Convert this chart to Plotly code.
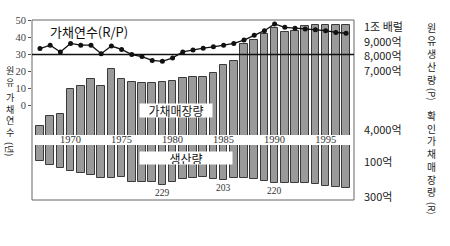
import plotly.graph_objects as go

# ---------------- data ----------------
years = list(range(1967, 1998))
rp_years = [33.5, 35.5, 31.5, 36.5, 35.5, 35.5, 30.5, 35, 33, 30,
            28.8, 26.5, 26, 28, 31.5, 32.7, 33.7, 34.5, 35.5, 36.5,
            38.5, 41.3, 44, 48, 46, 45.5, 45, 44.5, 44, 43, 42.5]
reserves = [3270, 3900, 4050, 5770, 6000, 6430, 5980, 7120, 6480, 6250,
            6200, 6200, 6270, 6340, 6500, 6610, 6610, 6840, 7410, 7680,
            8840, 9090, 9540, 9930, 9680, 9730, 10090, 10140, 10140, 10140, 10140]
production = [94, 114, 132, 149, 160, 172, 190, 189, 185, 210,
              213, 213, 229, 210, 195, 187, 181, 195, 203, 191,
              191, 195, 209, 220, 216, 216, 216, 223, 235, 242, 248]

year_ticks = [1970, 1975, 1980, 1985, 1990, 1995]
rp_ticks = [0, 10, 20, 30, 40, 50]
reserve_tick_vals = [10000, 9000, 8000, 7000, 2980]
reserve_tick_text = ["1조 배럴", "9,000억", "8,000억", "7,000억", "4,000억"]
prod_tick_vals = [100, 300]
prod_tick_text = ["100억", "300억"]
labelled_years = [1979, 1985, 1990]
rp_reference = 30

left_title_a = ["원", "유"]
left_title_b = ["가", "채", "연", "수"]
left_unit = "(년)"
right_title_p = ["원", "유", "생", "산", "량"]
right_unit_p = "(P)"
right_title_r = ["확", "인", "가", "채", "매", "장", "량"]
right_unit_r = "(R)"

# ---------------- layout helpers ----------------
W, H = 450, 246
L, R, T, B = 32, 354, 20, 200


def px(x):
    return (x - L) / (R - L)


def py(y):
    return (B - y) / (B - T)


KR = "Noto Sans CJK KR"
SERIF = "Liberation Serif"
BAR_FILL = "#9a9a9a"
BAR_LINE = "#3a3a3a"

fig = go.Figure()

fig.add_trace(go.Bar(x=years, y=reserves, yaxis="y", width=0.75,
                     marker=dict(color=BAR_FILL, line=dict(color=BAR_LINE, width=1))))
fig.add_trace(go.Bar(x=years, y=production, yaxis="y3", width=0.75,
                     marker=dict(color=BAR_FILL, line=dict(color=BAR_LINE, width=1))))
fig.add_trace(go.Scatter(x=years, y=rp_years, yaxis="y2", mode="lines+markers",
                         line=dict(color="#111", width=1.3),
                         marker=dict(color="#111", size=5)))

fig.update_layout(
    width=W, height=H,
    margin=dict(l=L, r=W - R, t=T, b=H - B),
    paper_bgcolor="white", plot_bgcolor="white",
    showlegend=False, bargap=0,
    xaxis=dict(range=[1966.22, 1997.78], anchor="free", position=py(131.5),
               tickvals=year_ticks, ticks="", showgrid=False, showline=False,
               zeroline=False, ticklabelstandoff=0,
               tickfont=dict(family=SERIF, size=10.5, color="#333")),
    yaxis=dict(domain=[py(135), 1], range=[2638, 10477], side="right",
               anchor="x", tickvals=reserve_tick_vals, ticktext=reserve_tick_text,
               ticks="", showgrid=False, showline=False, zeroline=False,
               ticklabelstandoff=9,
               tickfont=dict(family=KR, size=11, color="#222")),
    yaxis2=dict(overlaying="y", side="left", range=[-17.35, 50.3],
                tickvals=rp_ticks, ticks="outside", ticklen=3, tickcolor="#555",
                showgrid=False, showline=False, zeroline=False,
                ticklabelstandoff=0,
                tickfont=dict(family=SERIF, size=10.5, color="#444")),
    yaxis3=dict(domain=[0, py(145)], range=[315, 0], side="right", anchor="x",
                tickvals=prod_tick_vals, ticktext=prod_tick_text, ticks="",
                showgrid=False, showline=False, zeroline=False,
                ticklabelstandoff=9,
                tickfont=dict(family=KR, size=11, color="#222")),
)

shapes = [
    dict(type="rect", xref="paper", yref="paper", x0=0, x1=1, y0=0, y1=1,
         line=dict(color="#666", width=1), layer="above"),
    dict(type="line", xref="paper", yref="y2", x0=0, x1=1, y0=rp_reference, y1=rp_reference,
         line=dict(color="#111", width=1.5), layer="above"),
]
fig.update_layout(shapes=shapes)


def note(x, y, text, size, family=KR, **kw):
    d = dict(xref="paper", yref="paper", x=px(x), y=py(y), text=text,
             showarrow=False, xanchor="center", yanchor="middle",
             font=dict(family=family, size=size, color=kw.pop("color", "#111")))
    d.update(kw)
    return d


ann = []
ann.append(note(89, 32, "가채연수(R/P)", 13))
ann.append(note(176, 110, "가채매장량", 12, bgcolor="white", width=72, height=13,
                borderpad=0))
ann.append(note(186, 158, "생산량", 12, bgcolor="white", width=92, height=12,
                borderpad=0))
for yr in labelled_years:
    v = production[years.index(yr)]
    ann.append(dict(x=yr, y=v, xref="x", yref="y3", text=str(v), showarrow=False,
                    xanchor="center", yanchor="top", yshift=-1,
                    font=dict(family=SERIF, size=9.5, color="#333")))

# vertical (stacked) axis titles
ann.append(note(10, 76, "<br>".join(left_title_a), 9, color="#222"))
ann.append(note(10, 115, "<br>".join(left_title_b), 9, color="#222"))
ann.append(note(10, 149, left_unit, 9, textangle=90, color="#222"))

ann.append(note(432, 53.5, "<br>".join(right_title_p), 10, color="#222"))
ann.append(note(432, 94, right_unit_p, 9.5, textangle=90, color="#222"))

ann.append(note(432, 153.5, "<br>".join(right_title_r), 9.8, color="#222"))
ann.append(note(432, 208, right_unit_r, 9.5, textangle=90, color="#222"))

fig.update_layout(annotations=ann)

fig.write_html("out.html")
